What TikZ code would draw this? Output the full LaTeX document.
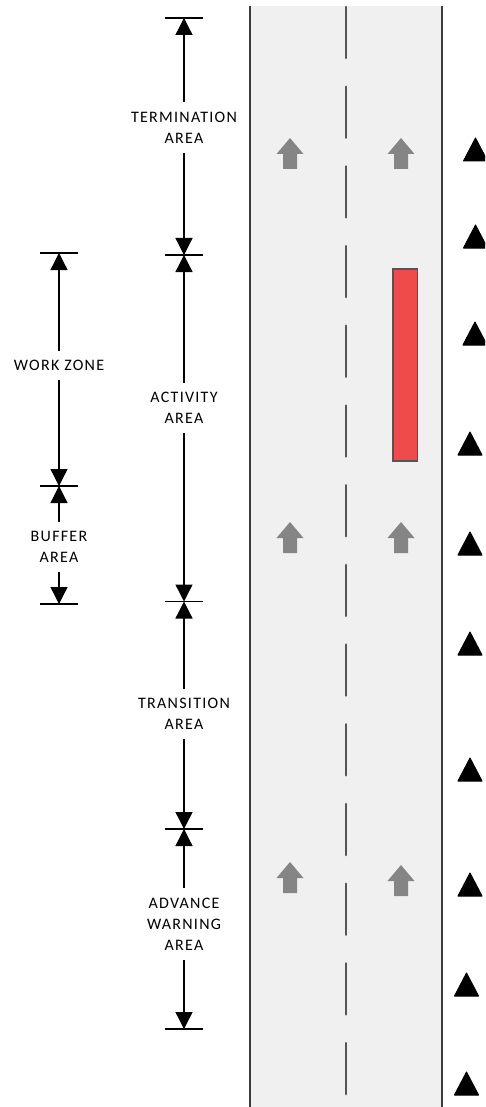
\documentclass[tikz,border=0pt]{standalone}
\usepackage{fontspec}
\usepackage{tikz}
\usetikzlibrary{arrows.meta,positioning}
\newfontfamily\lblfont{Carlito}[LetterSpace=8]
\definecolor{roadgray}{HTML}{F0F0F0}
\definecolor{edgegray}{HTML}{3C3C3C}
\definecolor{dashgray}{HTML}{555555}
\definecolor{arrowgray}{HTML}{858585}
\definecolor{workred}{HTML}{F04B4B}

\begin{document}
\begin{tikzpicture}[x=1pt,y=-1pt,
	lbl/.style={font={\lblfont\fontsize{16}{21}\selectfont}, align=center, inner xsep=1pt, inner ysep=9.5pt},
	dim/.style={line width=1.3pt, -{Triangle[length=17pt,width=17pt]}},
	dimtick/.style={line width=1.3pt},
	cone/.style={fill=black, draw=black, line width=1pt, line join=round}]
		\clip (0,0) rectangle (485,1107);
		% road
		\fill[roadgray] (250,6) rectangle (442,1107);
		\draw[edgegray, line width=1.8pt] (250,6) -- (250,1107);
		\draw[edgegray, line width=1.8pt] (442,6) -- (442,1107);
		\foreach \k in {0,...,13}
		\draw[dashgray, line width=2.5pt, line cap=round] (346,{7+79.7*\k}) --+(0,51);
		\foreach \x/\y in {290/138,401/138,290/522,401/522,290/862,401/865}
		\fill[arrowgray] (\x,\y) --++(13.5,16) --++(-6.5,0) --++(0,15) --++(-14,0) --++(0,-15) --++(-6.5,0) -- cycle;
		\draw[fill=workred, draw=dashgray, line width=1.3pt] (393,269) rectangle (417.5,461);
		% cones
		\foreach \x/\y in {475.5/138,475.5/225,475/322,470/432,470/532,470/632,470/758,470/873,466.5/973,466.5/1072}
		\filldraw[cone] (\x-12,\y+23) -- (\x,\y) -- (\x+12,\y+23) -- cycle;
		
		% area lengths
		\coordinate (ta0) at (184,18);
		\coordinate (ta1) at (184,255);
		\coordinate (ta2) at (184,601.5);
		\coordinate (ta3) at (184,829);
		\coordinate (ta4) at (184,1029);
		\coordinate (tb0) at (59,253);
		\coordinate (tb1) at (59,486);
		\coordinate (tb2) at (59,604);
		\foreach \t in {ta0,ta1,ta2,ta3,ta4,tb0,tb1,tb2}
		\draw[dimtick] (\t) ++(-19,0) --++(38,0);
		
		\node[lbl] (term) at (184,127.5) {TERMINATION\\AREA};
		\node[lbl] (act) at (184,408) {ACTIVITY\\AREA};
		\node[lbl] (trans) at (184,714) {TRANSITION\\AREA};
		\node[lbl] (adv) at (184,924) {ADVANCE\\WARNING\\AREA};
		\node[lbl] (work) at (59,365.5) {WORK ZONE};
		\node[lbl] (buf) at (59,547) {BUFFER\\AREA};
		
		\foreach \n/\a/\b in {term/ta0/ta1,act/ta1/ta2,trans/ta2/ta3,adv/ta3/ta4,work/tb0/tb1,buf/tb1/tb2}
		{\draw[dim] (\n) -- (\a);
		\draw[dim] (\n) -- (\b);}
\end{tikzpicture}
\end{document}
